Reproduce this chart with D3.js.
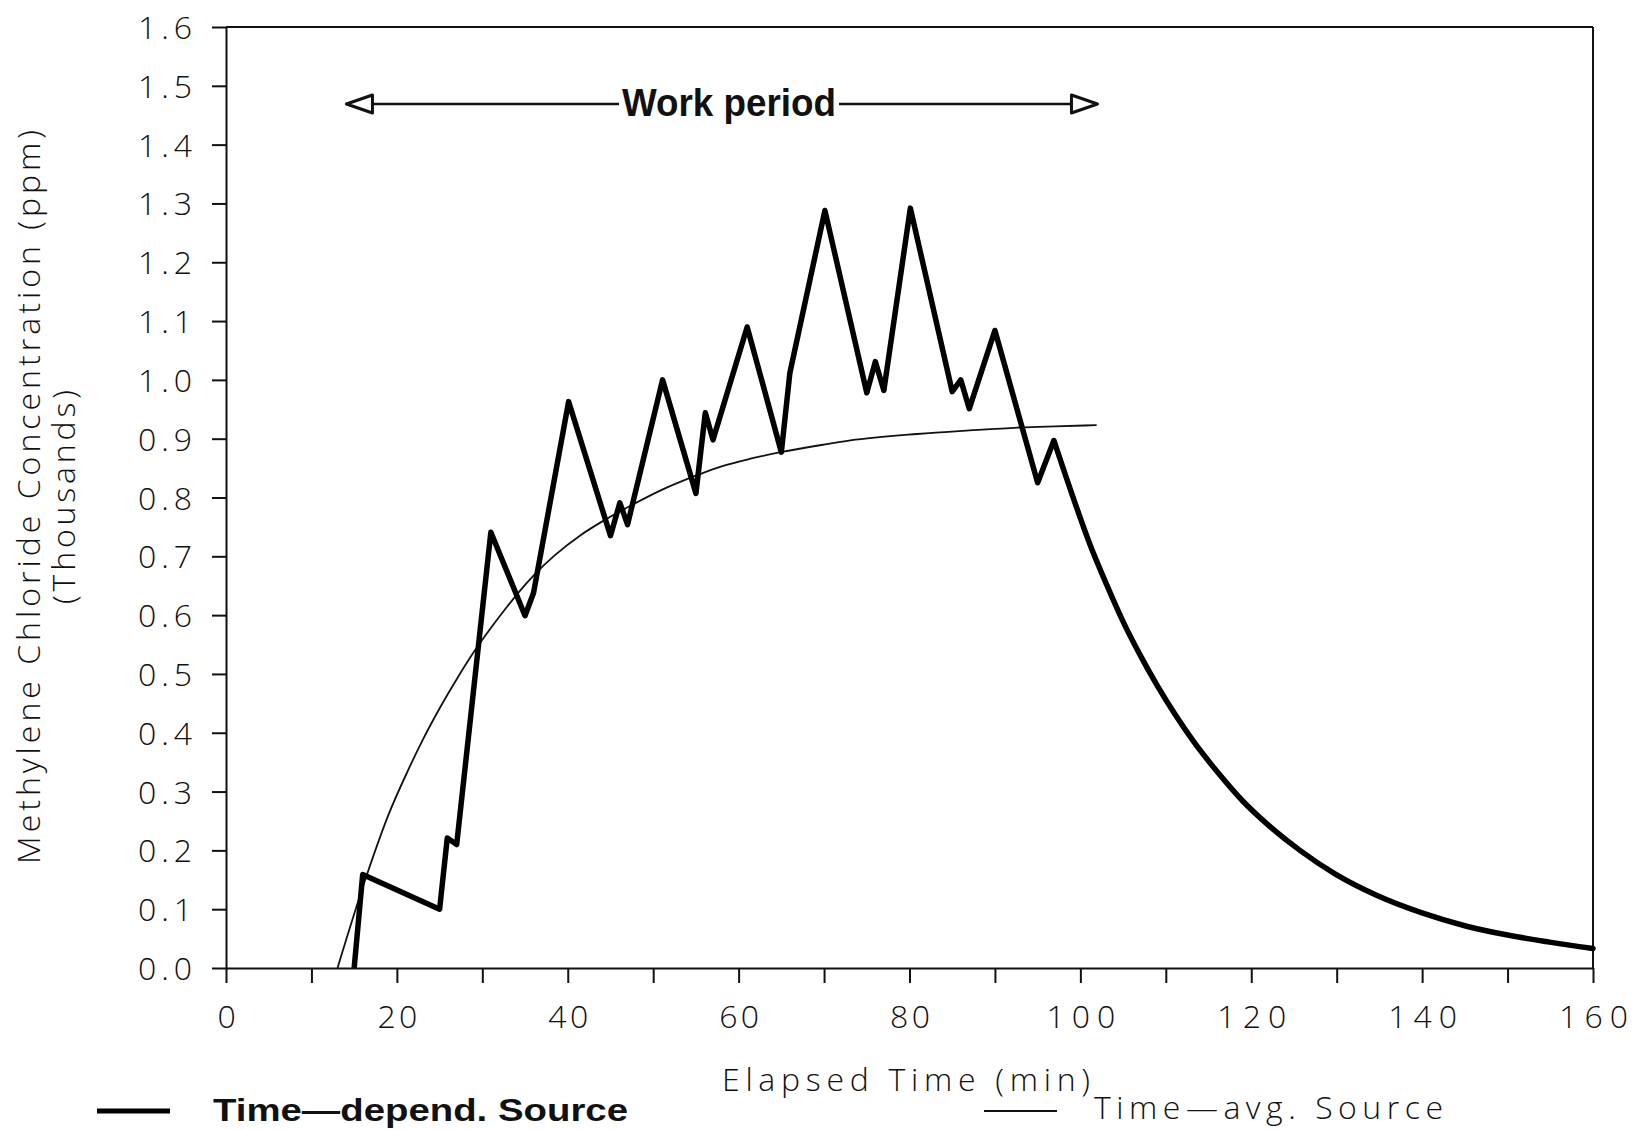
<!DOCTYPE html>
<html>
<head>
<meta charset="utf-8">
<script src="https://cdn.jsdelivr.net/npm/d3@7/dist/d3.min.js"></script>
<style>
    body { margin: 0; background: #fff; }
    svg { display: block; }
    .axis path, .axis line { stroke: #111; stroke-width: 2px; }
    .axis text { font-family: "Open Sans", "DejaVu Sans", sans-serif; font-size: 32px; font-weight: 300; fill: #111; }
    .label { font-family: "Open Sans", "DejaVu Sans", sans-serif; font-size: 32px; font-weight: 300; fill: #111; }
    .label-bold { font-family: "Liberation Sans Narrow", "Liberation Sans", Arial, sans-serif; font-weight: bold; fill: #111; }
</style>
</head>
<body>
<div id="chart"></div>
<script>
// time-dependent source: work phase (min, thousands ppm)
var depTime = [15, 16, 25, 25.9, 27, 31, 35, 36, 40.1, 45, 46.1, 47, 51.1, 55, 56.1, 57, 61, 65, 66, 70.1,
               75, 76, 77, 80.1, 85, 86, 87, 90, 95, 96.9];
var depConc = [0, 0.159, 0.100, 0.221, 0.210, 0.741, 0.599, 0.638, 0.963, 0.735, 0.791, 0.754, 1.000, 0.807,
               0.944, 0.898, 1.090, 0.877, 1.012, 1.288, 0.978, 1.031, 0.982, 1.292, 0.980, 1.000, 0.951,
               1.084, 0.825, 0.897];

// time-dependent source: decay after work period
var decayTime = [96.9, 99.2, 101.1, 103.1, 105, 107, 109, 111, 113.2, 116, 119, 122, 125.7, 129.8, 134.6,
                 139.9, 145.2, 150, 154.9, 160];
var decayConc = [0.897, 0.798, 0.721, 0.651, 0.589, 0.532, 0.480, 0.433, 0.386, 0.334, 0.284, 0.243, 0.200,
                 0.160, 0.124, 0.094, 0.071, 0.056, 0.044, 0.033];

// time-averaged source
var avgTime = [13.05, 16.57, 19, 21.24, 23, 25.14, 27, 29.04, 31, 32.94, 34.5, 36.05, 38.5, 41.5, 44, 47.35,
               51, 55.15, 58, 61.4, 64.9, 70, 73.07, 80.9, 87, 92.9, 97, 101.9];
var avgConc = [0, 0.162, 0.260, 0.334, 0.387, 0.445, 0.491, 0.538, 0.578, 0.615, 0.643, 0.668, 0.702, 0.736,
               0.759, 0.786, 0.813, 0.838, 0.853, 0.866, 0.877, 0.890, 0.897, 0.908, 0.914, 0.919, 0.921, 0.923];

var workPeriod = [14.1, 102];

var xTickValues = [0, 10, 20, 30, 40, 50, 60, 70, 80, 90, 100, 110, 120, 130, 140, 150, 160];
var yTickValues = [0, 0.1, 0.2, 0.3, 0.4, 0.5, 0.6, 0.7, 0.8, 0.9, 1.0, 1.1, 1.2, 1.3, 1.4, 1.5, 1.6];

var width = 1633, height = 1130;
var margin = {top: 27, right: 40, bottom: 162, left: 226};

var x = d3.scaleLinear().domain([0, 160]).range([margin.left, width - margin.right]);
var y = d3.scaleLinear().domain([0, 1.6]).range([height - margin.bottom, margin.top]);

var svg = d3.select("#chart").append("svg")
    .attr("width", width)
    .attr("height", height);

// frame: top and right edges
svg.append("line")
    .attr("x1", x(0)).attr("x2", x(160))
    .attr("y1", y(1.6)).attr("y2", y(1.6))
    .style("stroke", "#111").style("stroke-width", 2);
svg.append("line")
    .attr("x1", x(160)).attr("x2", x(160))
    .attr("y1", y(1.6)).attr("y2", y(0))
    .style("stroke", "#111").style("stroke-width", 2);

var xAxis = svg.append("g")
    .classed("axis", true)
    .attr("transform", "translate(0," + y(0) + ")")
    .call(d3.axisBottom(x)
        .tickValues(xTickValues)
        .tickSize(15)
        .tickSizeOuter(0)
        .tickFormat(function(d) { return d % 20 === 0 ? d : ""; }));

xAxis.selectAll("text")
    .attr("y", 60)
    .attr("dy", 0)
    .each(function(d) {
        var s = String(d);
        if (s.length > 1) d3.select(this).attr("textLength", s.length === 2 ? 40 : 69).attr("lengthAdjust", "spacing");
    });

var yAxis = svg.append("g")
    .classed("axis", true)
    .attr("transform", "translate(" + x(0) + ",0)")
    .call(d3.axisLeft(y)
        .tickValues(yTickValues)
        .tickSize(14)
        .tickSizeOuter(0)
        .tickFormat(d3.format(".1f")));

yAxis.selectAll("text")
    .attr("x", -34)
    .attr("dy", "0.36em")
    .attr("textLength", 54)
    .attr("lengthAdjust", "spacing");

// axis titles
svg.append("text")
    .classed("label", true)
    .attr("text-anchor", "middle")
    .attr("transform", "translate(40,497) rotate(-90)")
    .attr("textLength", 734)
    .attr("lengthAdjust", "spacing")
    .text("Methylene Chloride Concentration (ppm)");

svg.append("text")
    .classed("label", true)
    .attr("text-anchor", "middle")
    .attr("transform", "translate(75,497) rotate(-90)")
    .attr("textLength", 214)
    .attr("lengthAdjust", "spacing")
    .text("(Thousands)");

svg.append("text")
    .classed("label", true)
    .attr("text-anchor", "middle")
    .attr("x", 906)
    .attr("y", 1091)
    .attr("textLength", 368)
    .attr("lengthAdjust", "spacing")
    .text("Elapsed Time (min)");

// work period arrow
var arrowY = 104;
var textLeft = 622, textRight = 836, headLen = 26, headHalf = 9;
var arrow = svg.append("g").classed("work-period", true);

arrow.append("line")
    .attr("x1", x(workPeriod[0]) + headLen).attr("x2", textLeft - 3)
    .attr("y1", arrowY).attr("y2", arrowY)
    .style("stroke", "#111").style("stroke-width", 2.5);
arrow.append("line")
    .attr("x1", textRight + 3).attr("x2", x(workPeriod[1]) - headLen)
    .attr("y1", arrowY).attr("y2", arrowY)
    .style("stroke", "#111").style("stroke-width", 2.5);

function head(tip, dir) {
    var base = tip + dir * headLen;
    arrow.append("path")
        .attr("d", "M" + tip + "," + arrowY + "L" + base + "," + (arrowY - headHalf) + "L" + base + "," + (arrowY + headHalf) + "Z")
        .style("fill", "#fff")
        .style("stroke", "#111")
        .style("stroke-width", 3)
        .style("stroke-linejoin", "round");
}
head(x(workPeriod[0]), 1);
head(x(workPeriod[1]), -1);

arrow.append("text")
    .classed("label-bold", true)
    .attr("x", textLeft)
    .attr("y", 116)
    .style("font-size", "38px")
    .attr("textLength", textRight - textLeft)
    .attr("lengthAdjust", "spacingAndGlyphs")
    .text("Work period");

// data lines
var depLine = d3.line()
    .x(function(d, i) { return x(depTime[i]); })
    .y(function(d) { return y(d); });

var decayLine = d3.line()
    .curve(d3.curveMonotoneX)
    .x(function(d, i) { return x(decayTime[i]); })
    .y(function(d) { return y(d); });

var avgLine = d3.line()
    .curve(d3.curveMonotoneX)
    .x(function(d, i) { return x(avgTime[i]); })
    .y(function(d) { return y(d); });

svg.append("path")
    .attr("d", avgLine(avgConc))
    .style("fill", "none")
    .style("stroke", "#111")
    .style("stroke-width", 1.8);

svg.append("path")
    .attr("d", depLine(depConc))
    .style("fill", "none")
    .style("stroke", "#000")
    .style("stroke-width", 5.5)
    .style("stroke-linejoin", "round");

svg.append("path")
    .attr("d", decayLine(decayConc))
    .style("fill", "none")
    .style("stroke", "#000")
    .style("stroke-width", 5.5)
    .style("stroke-linecap", "round");

// legend
var legendY = 1111;
svg.append("line")
    .attr("x1", 97).attr("x2", 170)
    .attr("y1", legendY).attr("y2", legendY)
    .style("stroke", "#000").style("stroke-width", 5);
svg.append("text")
    .classed("label-bold", true)
    .attr("x", 213)
    .attr("y", 1121)
    .style("font-size", "31px")
    .style("font-family", "\"Liberation Sans\", Arial, sans-serif")
    .attr("textLength", 415)
    .attr("lengthAdjust", "spacingAndGlyphs")
    .text("Time\u2014depend. Source");

svg.append("line")
    .attr("x1", 984).attr("x2", 1057)
    .attr("y1", legendY).attr("y2", legendY)
    .style("stroke", "#111").style("stroke-width", 1.8);
svg.append("text")
    .classed("label", true)
    .attr("x", 1094)
    .attr("y", 1119)
    .attr("textLength", 349)
    .attr("lengthAdjust", "spacing")
    .text("Time\u2014avg. Source");
</script>
</body>
</html>
